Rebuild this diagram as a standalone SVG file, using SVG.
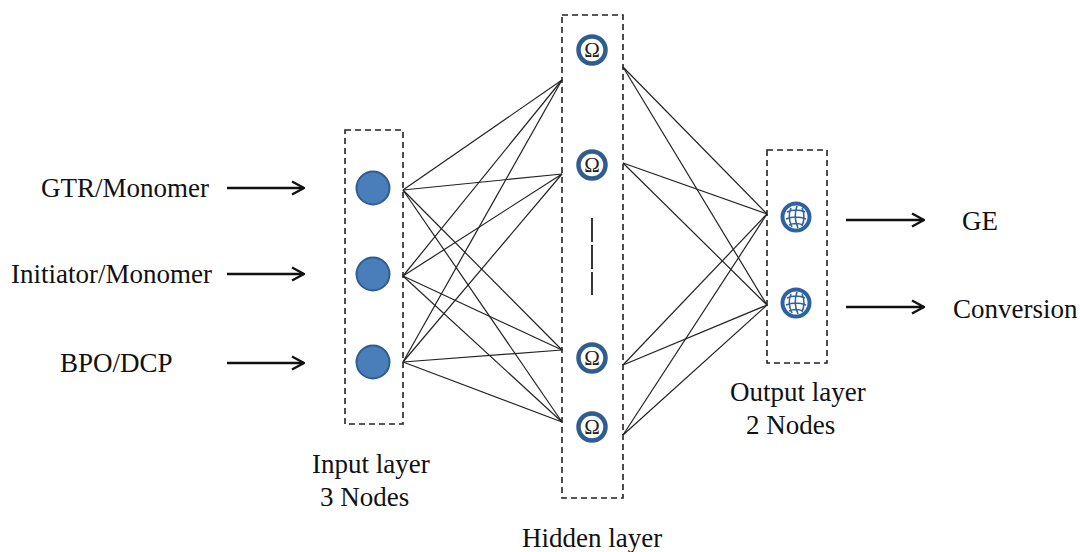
<svg xmlns="http://www.w3.org/2000/svg" width="1080" height="552" viewBox="0 0 1080 552">
<defs>
<style>
.t{font-family:"Liberation Serif","Times New Roman",serif;font-size:27px;fill:#111}
.box{fill:none;stroke:#222;stroke-width:1.6;stroke-dasharray:6 4}
.ln{stroke:#222;stroke-width:1.2;fill:none}
.arr{stroke:#111;stroke-width:2.6;fill:none}
.in{fill:#4a7ebb;stroke:#2f5d8f;stroke-width:2}
.hid{fill:#fff;stroke:#2f5d8f;stroke-width:4.5}
.om{font-family:"Liberation Serif","Times New Roman",serif;font-size:21px;fill:#2a2218;text-anchor:middle}
.out{fill:#fff;stroke:#2f62a0;stroke-width:4}
.grid{fill:none;stroke:#2f62a0;stroke-width:1.6}
</style>
<marker id="ah" viewBox="0 0 14 16" refX="13" refY="8" markerWidth="14" markerHeight="16" markerUnits="userSpaceOnUse" orient="auto">
<path d="M1,1.5 L13,8 L1,14.5" fill="none" stroke="#111" stroke-width="2.4"/>
</marker>
<g id="globe">
<circle class="out" cx="0" cy="0" r="13.5"/>
<path class="grid" d="M-9,-5 Q0,-9 9,-5 M-10,2 Q0,-2 10,2 M-7,8 Q0,5 7,8 M-5,-9 Q-9,0 -4,10 M1,-11 Q-3,0 2,11 M6,-9 Q10,0 6,9"/>
</g>
</defs>

<g id="connectors">
<g id="in-hid">
<line class="ln" x1="403" y1="190" x2="562" y2="80"/>
<line class="ln" x1="403" y1="190" x2="562" y2="174"/>
<line class="ln" x1="403" y1="190" x2="562" y2="350"/>
<line class="ln" x1="403" y1="190" x2="562" y2="422"/>
<line class="ln" x1="403" y1="276" x2="562" y2="80"/>
<line class="ln" x1="403" y1="276" x2="562" y2="174"/>
<line class="ln" x1="403" y1="276" x2="562" y2="350"/>
<line class="ln" x1="403" y1="276" x2="562" y2="422"/>
<line class="ln" x1="403" y1="362" x2="562" y2="80"/>
<line class="ln" x1="403" y1="362" x2="562" y2="174"/>
<line class="ln" x1="403" y1="362" x2="562" y2="350"/>
<line class="ln" x1="403" y1="362" x2="562" y2="422"/>
</g>
<g id="hid-out">
<line class="ln" x1="623" y1="67" x2="767" y2="214"/>
<line class="ln" x1="623" y1="67" x2="767" y2="305"/>
<line class="ln" x1="623" y1="163" x2="767" y2="214"/>
<line class="ln" x1="623" y1="163" x2="767" y2="305"/>
<line class="ln" x1="623" y1="365" x2="767" y2="214"/>
<line class="ln" x1="623" y1="365" x2="767" y2="305"/>
<line class="ln" x1="623" y1="435" x2="767" y2="214"/>
<line class="ln" x1="623" y1="435" x2="767" y2="305"/>
</g>
<g id="io-arrows">
<line class="arr" x1="227" y1="188" x2="304" y2="188" marker-end="url(#ah)"/>
<line class="arr" x1="227" y1="274" x2="304" y2="274" marker-end="url(#ah)"/>
<line class="arr" x1="227" y1="363" x2="304" y2="363" marker-end="url(#ah)"/>
<line class="arr" x1="846" y1="220" x2="924" y2="220" marker-end="url(#ah)"/>
<line class="arr" x1="846" y1="307" x2="924" y2="307" marker-end="url(#ah)"/>
</g>
</g>

<g id="input-labels">
<text class="t" x="41" y="197">GTR/Monomer</text>
<text class="t" x="11" y="283">Initiator/Monomer</text>
<text class="t" x="60" y="372">BPO/DCP</text>
</g>

<g id="input-layer">
<rect class="box" x="345" y="130" width="58" height="294"/>
<circle class="in" cx="373" cy="188" r="16.5"/>
<circle class="in" cx="373" cy="274" r="16.5"/>
<circle class="in" cx="373" cy="362" r="16.5"/>
<text class="t" x="312" y="473">Input layer</text>
<text class="t" x="320" y="506">3 Nodes</text>
</g>

<g id="hidden-layer">
<rect class="box" x="562" y="15" width="61" height="483"/>
<circle class="hid" cx="592" cy="50" r="13.5"/>
<text class="om" x="592" y="57">Ω</text>
<circle class="hid" cx="592" cy="165" r="13.5"/>
<text class="om" x="592" y="172">Ω</text>
<line x1="592" y1="218" x2="592" y2="295" stroke="#222" stroke-width="1.8" stroke-dasharray="24 3"/>
<circle class="hid" cx="592" cy="358" r="13.5"/>
<text class="om" x="592" y="365">Ω</text>
<circle class="hid" cx="592" cy="427" r="13.5"/>
<text class="om" x="592" y="434">Ω</text>
<text class="t" x="522" y="547">Hidden layer</text>
</g>

<g id="output-layer">
<rect class="box" x="767" y="150" width="60" height="213"/>
<use href="#globe" x="796" y="217"/>
<use href="#globe" x="796" y="303"/>
<text class="t" x="730" y="401">Output layer</text>
<text class="t" x="746" y="434">2 Nodes</text>
</g>

<g id="output-labels">
<text class="t" x="962" y="230">GE</text>
<text class="t" x="953" y="318">Conversion</text>
</g>
</svg>
